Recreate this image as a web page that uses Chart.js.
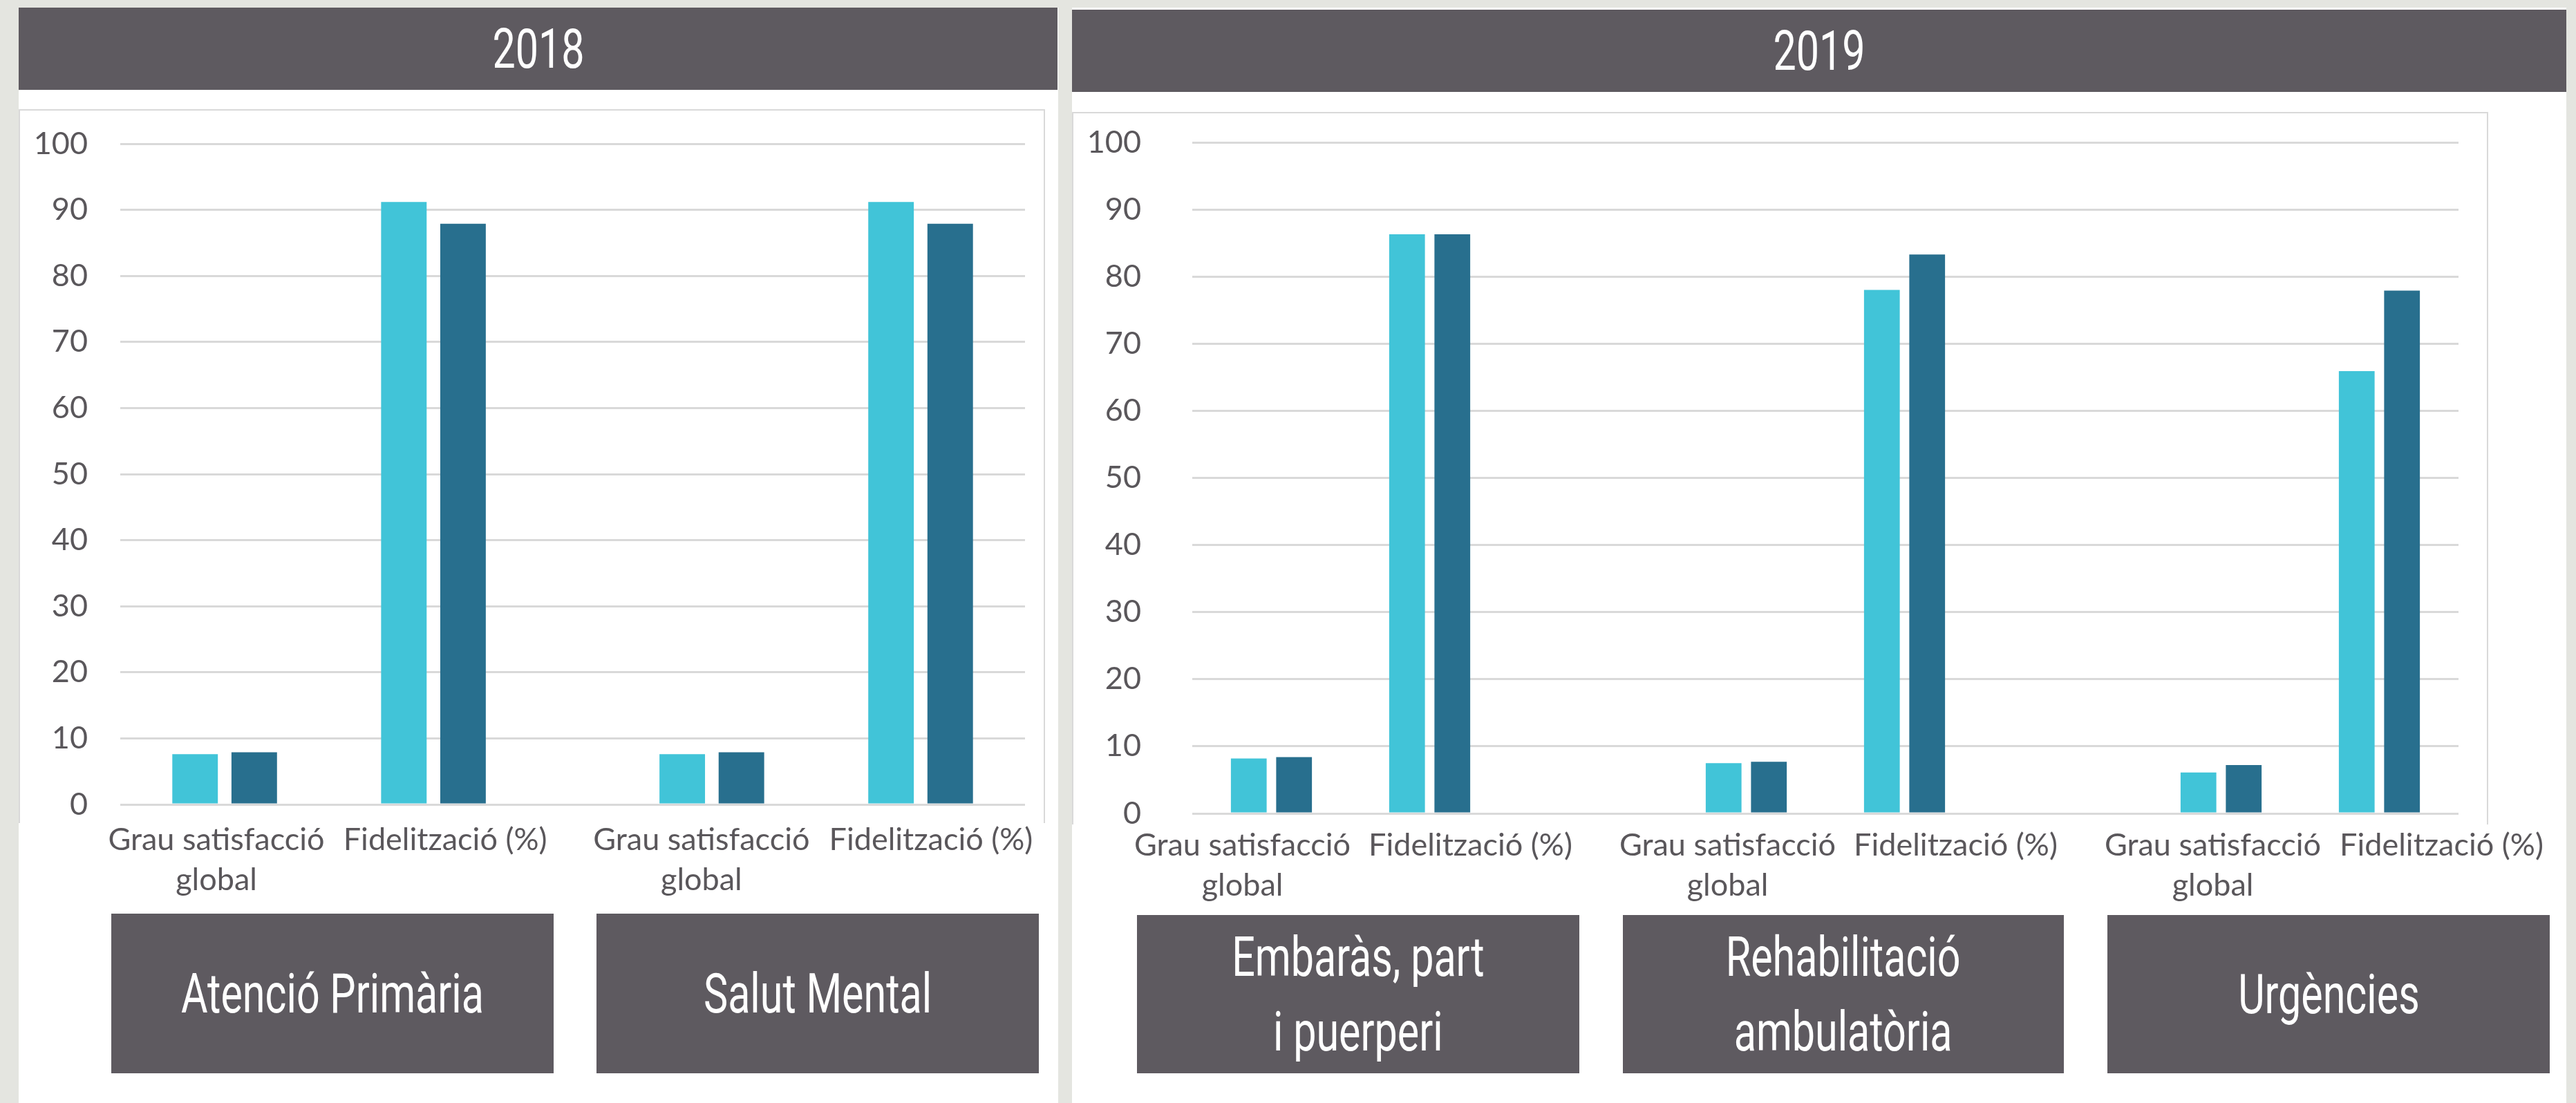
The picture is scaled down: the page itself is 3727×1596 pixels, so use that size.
<!DOCTYPE html>
<html>
<head>
<meta charset="utf-8">
<title>Satisfacció 2018 - 2019</title>
<script src="https://cdn.jsdelivr.net/npm/chart.js@4.4.1/dist/chart.umd.min.js"></script>
<style>
    html, body { margin: 0; padding: 0; }
    body {
        width: 3727px;
        height: 1596px;
        position: relative;
        overflow: hidden;
        background: #e4e5e0;
        font-family: Lato, "Open Sans", sans-serif;
    }
    .abs { position: absolute; }
    .panel { background: #fff; }
    .head, .tag {
        background: #5e5a60;
        color: #fff;
        display: flex;
        align-items: center;
        justify-content: center;
        font-family: Roboto, "Liberation Sans", sans-serif;
        font-size: 80px;
    }
    .sq {
        display: inline-block;
        transform: scaleX(0.74);
        text-align: center;
        line-height: 108px;
        white-space: nowrap;
    }
    .box {
        border: 2px solid #d9d9d9;
        border-bottom: none;
        box-sizing: border-box;
    }
    canvas { position: absolute; }
</style>
</head>
<body>
<script>
(function () {
    'use strict';

    // Data
    var years = ['2018', '2019'];

    var categories2018 = [['Grau satisfacció', 'global'], 'Fidelització (%)', ['Grau satisfacció', 'global'], 'Fidelització (%)'];
    var lightValues2018 = [7.6, 91.2, 7.6, 91.2];
    var darkValues2018 = [7.9, 87.9, 7.9, 87.9];
    var groups2018 = [['Atenció Primària'], ['Salut Mental']];

    var categories2019 = [['Grau satisfacció', 'global'], 'Fidelització (%)', ['Grau satisfacció', 'global'], 'Fidelització (%)', ['Grau satisfacció', 'global'], 'Fidelització (%)'];
    var lightValues2019 = [8.2, 86.3, 7.5, 78.0, 6.1, 65.9];
    var darkValues2019 = [8.4, 86.3, 7.7, 83.3, 7.2, 77.9];
    var groups2019 = [['Embaràs, part', 'i puerperi'], ['Rehabilitació', 'ambulatòria'], ['Urgències']];

    var yMin = 0;
    var yMax = 100;
    var yStep = 10;

    var LIGHT = '#41c4d8';
    var DARK = '#286f8e';
    var TEXT = '#5a575b';
    var GRID = '#d9d9d9';
    var TICK_FONT = { family: 'Lato', size: 45, lineHeight: 1.29 };

    // Page layout (pixels)
    var layout2018 = {
        panel: [27, 11, 1504, 1585],
        head: [27, 11, 1503, 119],
        box: [27, 158, 1485, 1033],
        canvas: [27, 158, 1485, 1162],
        tags: [[161, 1322, 640, 231], [863, 1322, 640, 231]],
        slots: { count: 13, at: [1, 4, 8, 11] },
        labelShift: [-12, 17, -15, 15],
        cat: 1.70, bar: 0.77,
        yW: 147, yGap: 47, right: 29, top: 50, bottom: 156, xPad: 22
    };
    var layout2019 = {
        panel: [1551, 11, 2162, 1585],
        head: [1551, 14, 2162, 119],
        box: [1551, 162, 2049, 1031],
        canvas: [1551, 162, 2162, 1158],
        tags: [[1645, 1324, 640, 229], [2348, 1324, 638, 229], [3049, 1324, 640, 229]],
        slots: { count: 8, at: [0, 1, 3, 4, 6, 7] },
        labelShift: [-42, 59, -27, 74, -12, 90],
        cat: 0.572, bar: 0.79,
        yW: 174, yGap: 74, right: 156, top: 44, bottom: 143, xPad: 17
    };

    function place(el, r) {
        el.style.left = r[0] + 'px';
        el.style.top = r[1] + 'px';
        el.style.width = r[2] + 'px';
        el.style.height = r[3] + 'px';
        document.body.appendChild(el);
        return el;
    }

    function block(cls, r, lines) {
        var el = document.createElement('div');
        el.className = 'abs ' + cls;
        if (lines) {
            var span = document.createElement('span');
            span.className = 'sq';
            span.innerHTML = lines.join('<br>');
            el.appendChild(span);
        }
        return place(el, r);
    }

    function drawPanel(year, lay, categories, lightValues, darkValues, groups) {
        block('panel', lay.panel);
        block('head', lay.head, [year]);
        block('box', lay.box);
        lay.tags.forEach(function (r, i) {
            block('tag', r, groups[i]);
        });

        var canvas = document.createElement('canvas');
        canvas.width = lay.canvas[2];
        canvas.height = lay.canvas[3];
        place(canvas, lay.canvas);

        // Spread the categories over slots so the groups keep their gaps
        var slotLabels = [];
        var light = [];
        var dark = [];
        for (var i = 0; i < lay.slots.count; i++) {
            slotLabels.push('');
            light.push(null);
            dark.push(null);
        }
        lay.slots.at.forEach(function (s, k) {
            light[s] = lightValues[k];
            dark[s] = darkValues[k];
        });

        var scales = {
            x: {
                offset: true,
                grid: { display: false, drawTicks: false },
                border: { display: false },
                ticks: { display: false },
                afterFit: function (scale) {
                    scale.height = 0;
                }
            },
            y: {
                min: yMin,
                max: yMax,
                grid: { color: GRID, lineWidth: 3, drawTicks: true, tickLength: lay.yGap, tickColor: 'rgba(0,0,0,0)' },
                border: { display: false },
                ticks: {
                    stepSize: yStep,
                    padding: 0,
                    color: TEXT,
                    font: { family: 'Lato', size: 45 }
                },
                afterFit: function (scale) {
                    scale.width = lay.yW;
                    scale.paddingTop = 0;
                    scale.paddingBottom = 0;
                }
            }
        };

        // One label axis per category, pinned to y = 0, so each label can sit where the picture has it
        lay.slots.at.forEach(function (s, k) {
            var only = slotLabels.map(function (l, i) {
                return i === s ? categories[k] : '';
            });
            scales['label' + k] = {
                type: 'category',
                axis: 'x',
                labels: only,
                position: { y: 0 },
                offset: true,
                grid: { display: false, drawTicks: false },
                border: { display: false },
                ticks: {
                    autoSkip: false,
                    maxRotation: 0,
                    minRotation: 0,
                    padding: lay.xPad,
                    labelOffset: lay.labelShift[k],
                    color: TEXT,
                    font: TICK_FONT
                },
                afterFit: function (scale) {
                    scale.paddingLeft = 0;
                    scale.paddingRight = 0;
                }
            };
        });

        new Chart(canvas.getContext('2d'), {
            type: 'bar',
            data: {
                labels: slotLabels,
                datasets: [{
                    label: 'A',
                    data: light,
                    backgroundColor: LIGHT,
                    categoryPercentage: lay.cat,
                    barPercentage: lay.bar
                }, {
                    label: 'B',
                    data: dark,
                    backgroundColor: DARK,
                    categoryPercentage: lay.cat,
                    barPercentage: lay.bar
                }]
            },
            options: {
                responsive: false,
                animation: false,
                layout: {
                    padding: { left: 0, right: lay.right, top: lay.top, bottom: lay.bottom }
                },
                plugins: {
                    legend: { display: false },
                    tooltip: { enabled: false }
                },
                scales: scales
            }
        });
    }

    drawPanel(years[0], layout2018, categories2018, lightValues2018, darkValues2018, groups2018);
    drawPanel(years[1], layout2019, categories2019, lightValues2019, darkValues2019, groups2019);
})();
</script>
</body>
</html>
